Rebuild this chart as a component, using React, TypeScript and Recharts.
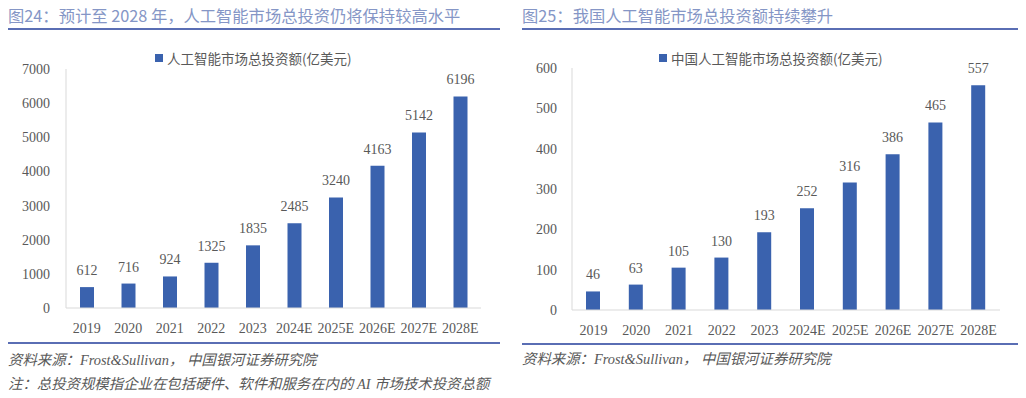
import { BarChart, Bar, XAxis, YAxis, LabelList } from "recharts";

const years = ["2019", "2020", "2021", "2022", "2023", "2024E", "2025E", "2026E", "2027E", "2028E"];
const globalInvest = [612, 716, 924, 1325, 1835, 2485, 3240, 4163, 5142, 6196];
const chinaInvest = [46, 63, 105, 130, 193, 252, 316, 386, 465, 557];
const globalTicks = [0, 1000, 2000, 3000, 4000, 5000, 6000, 7000];
const chinaTicks = [0, 100, 200, 300, 400, 500, 600];

const BAR = "#3a62ae";
const GRAY = "#595959";
const AXIS = "#d9d9d9";
const RULE = "#5a6eb4";
const TITLE = "#8596c6";
const NUM_FONT = "'Liberation Serif', 'Noto Sans CJK SC', serif";
const CJK_FONT = "'Noto Sans CJK SC', sans-serif";

const globalData = years.map((year, i) => ({ year, value: globalInvest[i] }));
const chinaData = years.map((year, i) => ({ year, value: chinaInvest[i] }));

const tickStyle = { fill: GRAY, fontSize: 14, fontFamily: NUM_FONT };

function Title({ left, text }: { left: number; text: string }) {
  return (
    <div
      style={{
        position: "absolute",
        left,
        top: 5,
        fontFamily: CJK_FONT,
        fontSize: 16.3,
        lineHeight: "20px",
        color: TITLE,
        whiteSpace: "nowrap",
      }}
    >
      {text}
    </div>
  );
}

function Rule({ left, width, top }: { left: number; width: number; top: number }) {
  return <div style={{ position: "absolute", left, top, width, height: 2, background: RULE }} />;
}

function LegendItem({ left, text }: { left: number; text: string }) {
  return (
    <div
      style={{
        position: "absolute",
        left,
        top: 48,
        display: "flex",
        alignItems: "center",
        fontSize: 13.5,
        color: GRAY,
        whiteSpace: "nowrap",
      }}
    >
      <span style={{ width: 8, height: 8, background: BAR, marginRight: 4, display: "inline-block" }} />
      <span style={{ fontFamily: CJK_FONT }}>{text}</span>
    </div>
  );
}

function Note({ left, top, text }: { left: number; top: number; text: string }) {
  return (
    <div
      style={{
        position: "absolute",
        left,
        top,
        fontFamily: NUM_FONT,
        fontStyle: "italic",
        fontSize: 14.4,
        lineHeight: "18px",
        color: GRAY,
        whiteSpace: "nowrap",
      }}
    >
      {text}
    </div>
  );
}

export default function App() {
  return (
    <div
      style={{
        position: "absolute",
        left: 0,
        top: 0,
        width: 1026,
        height: 398,
        background: "#fff",
        overflow: "hidden",
      }}
    >
      <Title left={8} text="图24：预计至 2028 年，人工智能市场总投资仍将保持较高水平" />
      <Title left={522} text="图25：我国人工智能市场总投资额持续攀升" />
      <Rule left={8} width={492} top={28} />
      <Rule left={522} width={496} top={28} />

      <LegendItem left={155} text="人工智能市场总投资额(亿美元)" />
      <LegendItem left={659} text="中国人工智能市场总投资额(亿美元)" />

      <div style={{ position: "absolute", left: 0, top: 0 }}>
        <BarChart width={512} height={340} data={globalData} margin={{ top: 69, right: 31, bottom: 0, left: 0 }}>
          <XAxis
            dataKey="year"
            height={32}
            tickLine={false}
            tickSize={0}
            tickMargin={15}
            axisLine={{ stroke: AXIS }}
            tick={tickStyle}
            interval={0}
          />
          <YAxis
            width={66}
            domain={[0, 7000]}
            ticks={globalTicks}
            tickLine={false}
            tickSize={0}
            tickMargin={16}
            axisLine={{ stroke: AXIS }}
            tick={tickStyle}
          />
          <Bar dataKey="value" fill={BAR} barSize={14} isAnimationActive={false}>
            <LabelList dataKey="value" position="top" offset={12} style={tickStyle} />
          </Bar>
        </BarChart>
      </div>

      <div style={{ position: "absolute", left: 512, top: 0 }}>
        <BarChart width={514} height={342} data={chinaData} margin={{ top: 68, right: 26, bottom: 0, left: 0 }}>
          <XAxis
            dataKey="year"
            height={32}
            tickLine={false}
            tickSize={0}
            tickMargin={15}
            axisLine={{ stroke: AXIS }}
            tick={tickStyle}
            interval={0}
          />
          <YAxis
            width={60}
            domain={[0, 600]}
            ticks={chinaTicks}
            tickLine={false}
            tickSize={0}
            tickMargin={15}
            axisLine={{ stroke: AXIS }}
            tick={tickStyle}
          />
          <Bar dataKey="value" fill={BAR} barSize={14} isAnimationActive={false}>
            <LabelList dataKey="value" position="top" offset={12} style={tickStyle} />
          </Bar>
        </BarChart>
      </div>

      <Rule left={8} width={492} top={342} />
      <Rule left={522} width={496} top={343} />

      <Note left={8} top={351} text="资料来源：Frost&Sullivan， 中国银河证券研究院" />
      <Note left={8} top={375} text="注：总投资规模指企业在包括硬件、软件和服务在内的 AI 市场技术投资总额" />
      <Note left={522} top={350} text="资料来源：Frost&Sullivan， 中国银河证券研究院" />
    </div>
  );
}
